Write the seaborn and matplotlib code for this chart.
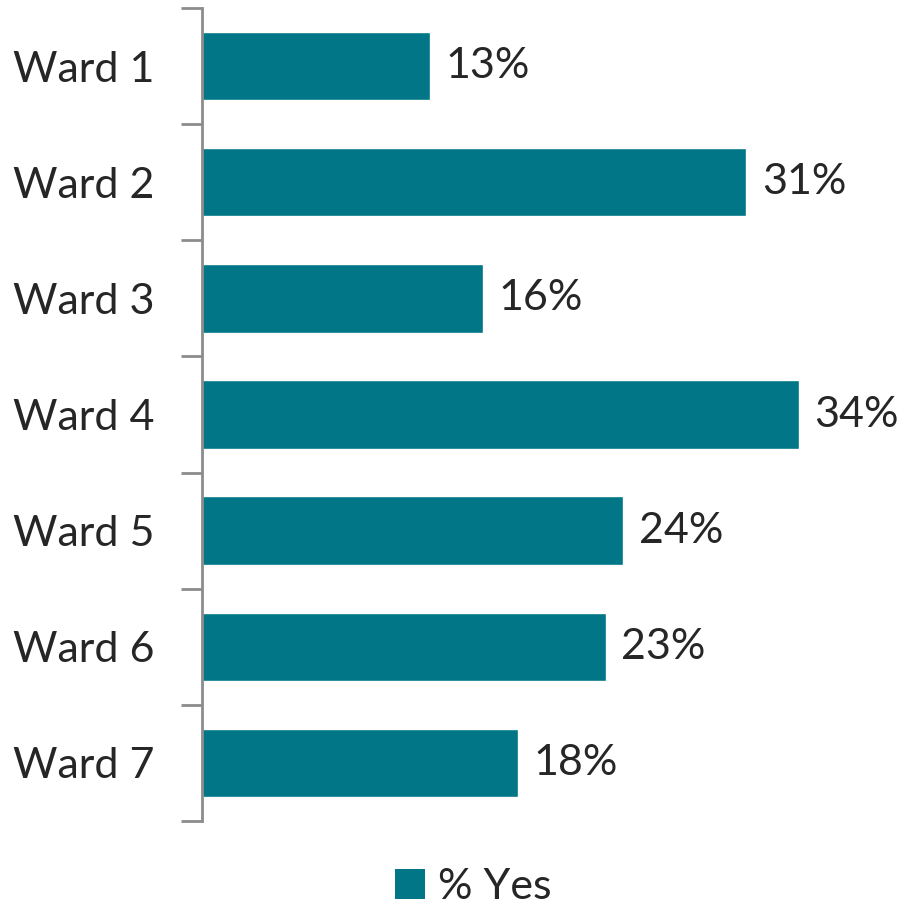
import pandas as pd
import numpy as np
import matplotlib.pyplot as plt
import seaborn as sns
from matplotlib.patches import Patch

wards = ['Ward 1', 'Ward 2', 'Ward 3', 'Ward 4', 'Ward 5', 'Ward 6', 'Ward 7']
pct_yes = [13, 31, 16, 34, 24, 23, 18]

teal = '#007686'
text_col = '#262626'

sns.set_theme(style='white')
plt.rcParams['font.family'] = ['Lato', 'DejaVu Sans']

df = pd.DataFrame({'Ward': wards, 'Yes': pct_yes})

fig = plt.figure(figsize=(9.13, 9.08), dpi=100)
ax = fig.add_axes([202 / 913, 1 - 821 / 908, 702 / 913, 813 / 908])

sns.barplot(data=df, x='Yes', y='Ward', color=teal, width=1 / 1.7,
            saturation=1, ax=ax)

# value labels
for i, v in enumerate(pct_yes):
    ax.text(v + 0.9, i, f'{v}%', va='center', ha='left',
            fontsize=31, color=text_col)

ax.set_xlim(0, 40)
ax.set_ylim(6.5, -0.5)
ax.set_xlabel('')
ax.set_ylabel('')
ax.set_xticks([])

# category boundary ticks on the axis
ax.set_yticks(np.arange(len(wards)))
ax.set_yticklabels(wards, fontsize=31, color=text_col)
ax.tick_params(axis='y', which='major', length=0, pad=34)
ax.set_yticks(np.arange(-0.5, len(wards), 1), minor=True)
ax.tick_params(axis='y', which='minor', length=15, width=2, color='#8c8c8c',
               left=True)

for s in ['top', 'right', 'bottom']:
    ax.spines[s].set_visible(False)
ax.spines['left'].set_color('#8c8c8c')
ax.spines['left'].set_linewidth(2)

handles = [Patch(facecolor=teal, edgecolor='none', label='% Yes')]
fig.legend(handles=handles, loc='center', bbox_to_anchor=(473 / 913, 1 - 887 / 908),
           frameon=False, fontsize=31, handlelength=0.7, handleheight=0.7,
           handletextpad=0.3, labelcolor=text_col)

fig.savefig('out.png', dpi=100)
